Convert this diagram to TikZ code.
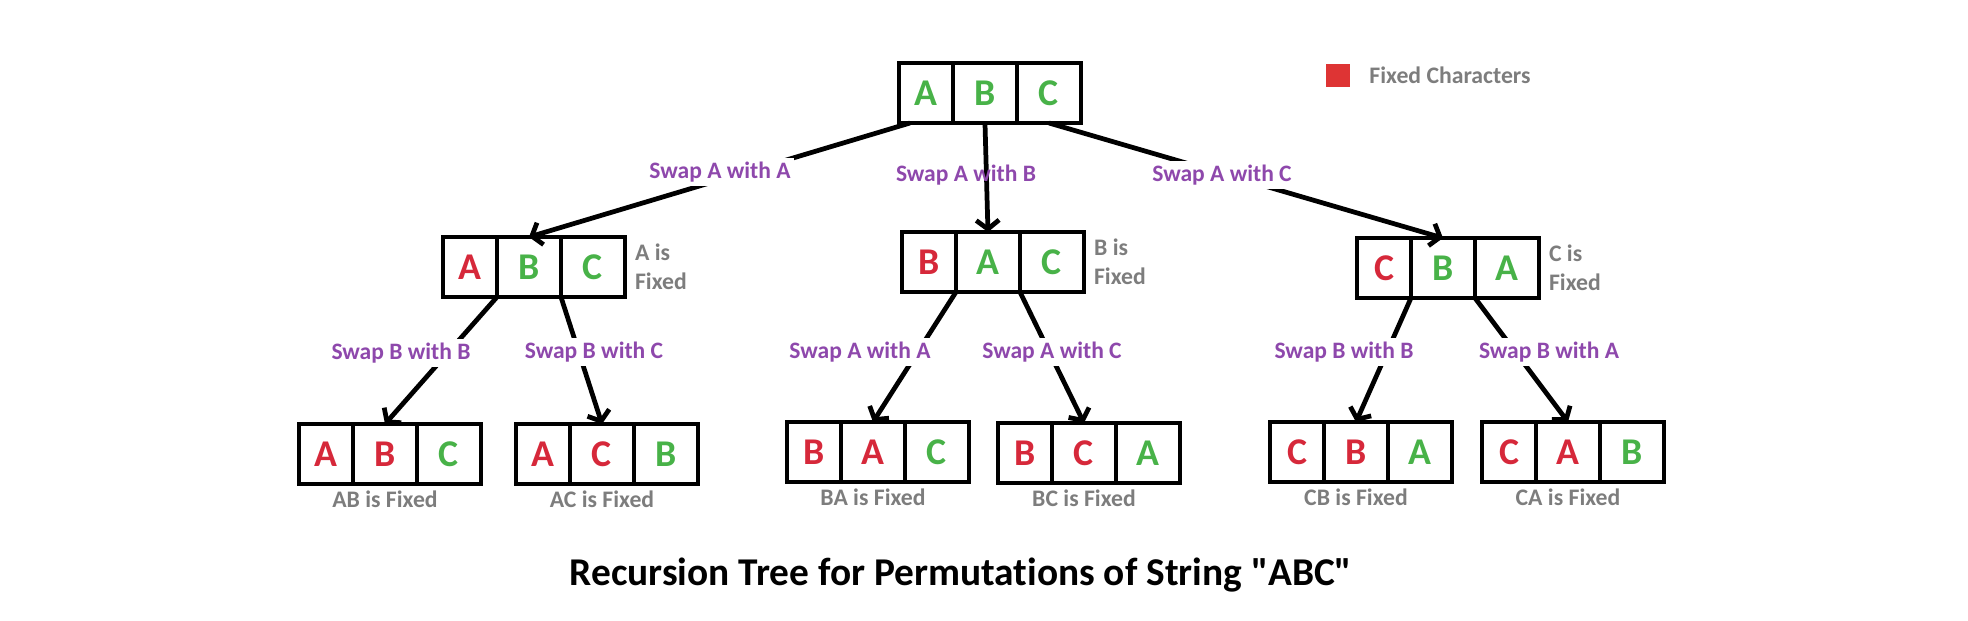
\documentclass[tikz,border=0pt]{standalone}
\usepackage{fontspec}
\setmainfont{Carlito}[Ligatures={TeX,NoCommon}]
\newfontfamily\plainfont{Carlito}[Ligatures=NoCommon]
\usepackage{xcolor}
\usepackage{tikz}
\usetikzlibrary{arrows.meta,positioning}

\definecolor{fixred}{RGB}{214,40,58}
\definecolor{freegreen}{RGB}{72,178,72}
\definecolor{swappurple}{RGB}{142,72,172}
\definecolor{notegray}{RGB}{125,125,125}
\definecolor{legendred}{RGB}{222,52,52}

\newcommand{\fx}[1]{\textcolor{fixred}{#1}}
\newcommand{\fr}[1]{\textcolor{freegreen}{#1}}

\tikzset{
  cell/.style={draw, line width=2.8pt, minimum height=1.2cm, inner sep=0pt, outer sep=0pt,
    font=\fontsize{21.5}{21.5}\selectfont\bfseries},
  first/.style={cell, minimum width=1.08cm},
  rest/.style={cell, minimum width=1.28cm},
  swaptext/.style={text=swappurple, font=\fontsize{13.4}{16}\selectfont\bfseries, fill=white, inner sep=2pt},
  note/.style={text=notegray, font=\fontsize{13.5}{16.5}\selectfont\bfseries, align=left, inner sep=1pt},
  arr/.style={line width=2.7pt, -{Straight Barb[length=5pt,width=13pt]}},
}

% one string in three cells: name, west point, letters
\newcommand{\perm}[5]{%
  \node[first, anchor=west] (#1-1) at #2 {#3};
  \node[rest, anchor=west] (#1-2) at (#1-1.east) {#4};
  \node[rest, anchor=west] (#1-3) at (#1-2.east) {#5};
}

\begin{document}
\begin{tikzpicture}[x=0.02cm, y=-0.02cm]
    \useasboundingbox (0,0) rectangle (1968,620);

    % strings
    \perm{root}{(899,93)}{\fr{A}}{\fr{B}}{\fr{C}}
    \perm{a}{(443,267)}{\fx{A}}{\fr{B}}{\fr{C}}
    \perm{b}{(902,262)}{\fx{B}}{\fr{A}}{\fr{C}}
    \perm{c}{(1357,268)}{\fx{C}}{\fr{B}}{\fr{A}}
    \perm{aa}{(299,454)}{\fx{A}}{\fx{B}}{\fr{C}}
    \perm{ab}{(516,454)}{\fx{A}}{\fx{C}}{\fr{B}}
    \perm{ba}{(787,452)}{\fx{B}}{\fx{A}}{\fr{C}}
    \perm{bc}{(998,453)}{\fx{B}}{\fx{C}}{\fr{A}}
    \perm{ca}{(1270,452)}{\fx{C}}{\fx{B}}{\fr{A}}
    \perm{cb}{(1482,452)}{\fx{C}}{\fx{A}}{\fr{B}}

    % swaps
    \draw[arr] ([xshift=0.22cm]root-1.south west) -- (a-2.north);
    \draw[arr] (root-2.south) -- (b-2.north);
    \draw[arr] (root-3.south) -- (c-2.north);
    \foreach \from/\to in {a-1/aa-2, a-2/ab-2, b-1/ba-2, b-2/bc-2, c-1/ca-2, c-2/cb-2}
        \draw[arr] (\from.south east) -- (\to.north);

    \node[swaptext] (swap-aa) at (720,172) {Swap A with A};
    \node[swaptext, fill=none] (swap-ab) at (966,175) {Swap A with B};
    \node[swaptext] (swap-ac) at (1222,175) {Swap A with C};
    \node[swaptext] (swap-bb) at (401,353) {Swap B with B};
    \node[swaptext] (swap-bc) at (594,352) {Swap B with C};
    \node[swaptext] (swap-baa) at (860,352) {Swap A with A};
    \node[swaptext] (swap-bac) at (1052,352) {Swap A with C};
    \node[swaptext] (swap-cbb) at (1344,352) {Swap B with B};
    \node[swaptext] (swap-cba) at (1549,352) {Swap B with A};

    % fixed notes
    \node[note, right=0.16cm of a-3] (a-note) {A is\\Fixed};
    \node[note, right=0.16cm of b-3] (b-note) {B is\\Fixed};
    \node[note, right=0.16cm of c-3] (c-note) {C is\\Fixed};
    \node[note, below=0.1cm of aa-2] (aa-note) {AB is Fixed};
    \node[note, below=0.1cm of ab-2] (ab-note) {AC is Fixed};
    \node[note, below=0.1cm of ba-2] (ba-note) {BA is Fixed};
    \node[note, below=0.1cm of bc-2] (bc-note) {BC is Fixed};
    \node[note, below=0.1cm of ca-2] (ca-note) {CB is Fixed};
    \node[note, below=0.1cm of cb-2] (cb-note) {CA is Fixed};

    % legend
    \node[fill=legendred, minimum width=0.48cm, minimum height=0.46cm, inner sep=0pt] (key) at (1338,75) {};
    \node[note, right=0.34cm of key] (key-text) {Fixed Characters};

    \node[font=\plainfont\fontsize{22.4}{26}\selectfont\bfseries] (title) at (961,575)
        {Recursion Tree for Permutations of String "ABC"};
\end{tikzpicture}
\end{document}
